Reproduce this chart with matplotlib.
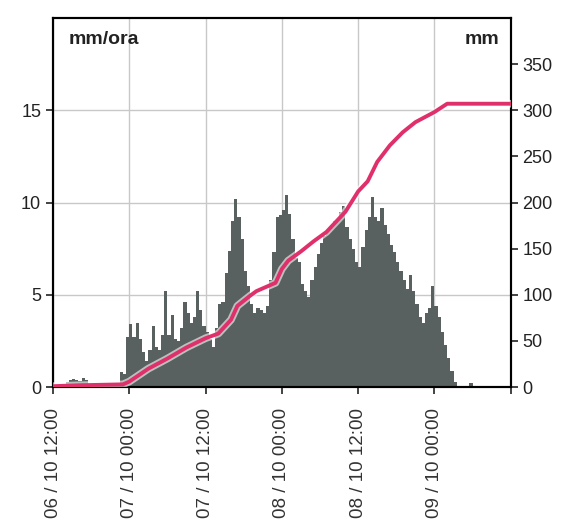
import numpy as np
import matplotlib
matplotlib.use("Agg")
import matplotlib.pyplot as plt

plt.rcParams['font.family'] = ['Liberation Sans', 'DejaVu Sans']

# rainfall intensity (mm/ora), half-hour steps from 06/10 12:00
rain = [
    0, 0, 0, 0, 0.3, 0.4, 0.45, 0.4, 0.35, 0.5,
    0.4, 0, 0, 0, 0, 0, 0, 0, 0, 0,
    0, 0.8, 0.7, 2.7, 3.4, 2.7, 3.5, 2.6, 1.9, 1.4,
    2.0, 3.3, 2.2, 2.0, 2.8, 5.2, 2.8, 3.9, 2.6, 2.5,
    3.2, 4.6, 4.0, 3.5, 3.8, 5.2, 4.2, 3.3, 3.0, 2.6,
    2.2, 3.2, 4.5, 4.6, 6.2, 7.4, 9.0, 10.2, 9.2, 8.0,
    6.3, 5.5, 4.5, 4.0, 4.3, 4.2, 4.0, 4.4, 5.8, 7.3,
    9.2, 9.3, 9.6, 10.4, 9.4, 8.0, 7.0, 6.8, 5.6, 5.2,
    4.9, 5.8, 6.5, 7.2, 7.8, 8.2, 8.5, 8.8, 9.0, 9.1,
    9.5, 9.8, 8.7, 8.0, 7.5, 6.8, 6.5, 7.6, 8.5, 9.2,
    10.3, 9.2, 9.0, 9.7, 8.8, 8.3, 7.7, 7.3, 6.8, 6.3,
    5.8, 5.3, 6.1, 5.2, 4.5, 3.8, 3.5, 4.0, 4.3, 5.5,
    4.4, 3.8, 3.0, 2.3, 1.6, 0.9, 0.3, 0, 0, 0,
    0, 0.2, 0, 0, 0, 0, 0, 0, 0, 0,
    0, 0, 0, 0,
]

# cumulative rainfall (mm) read at hours since 06/10 12:00
cum_hours = [0, 4, 11, 12, 15, 18, 21, 24, 26, 28, 29, 31, 32, 35, 36, 37,
             39, 41, 43, 46, 48, 49.5, 51, 53, 55, 57, 60, 62, 72]
cum_mm = [1, 2, 3, 6, 20, 31, 43, 53, 58, 73, 88, 99, 104, 113, 128, 137,
          147, 158, 168, 190, 212, 223, 244, 262, 276, 287, 298, 307, 307]

tick_hours = [0, 12, 24, 36, 48, 60, 72]
tick_labels = ["06 / 10 12:00", "07 / 10 00:00", "07 / 10 12:00",
               "08 / 10 00:00", "08 / 10 12:00", "09 / 10 00:00", ""]

fig = plt.figure(figsize=(5.7, 5.26), dpi=100)
ax = fig.add_axes([0.093, 0.264, 0.803, 0.702])

t = np.arange(len(rain)) * 0.5
ax.bar(t, rain, width=0.5, align='edge', color='#58615f', linewidth=0, zorder=2)
ax.set_xlim(0, 72)
ax.set_ylim(0, 20)
ax.set_yticks([0, 5, 10, 15])
ax.set_xticks(tick_hours)
ax.set_xticklabels(tick_labels, rotation=90, va='top', ha='center')
ax.grid(True, color='#c8c8c8', linewidth=1, zorder=0)
ax.set_axisbelow(True)
ax.tick_params(axis='both', labelsize=13, colors='#222222', width=1.2, length=5)
ax.tick_params(axis='x', labelsize=13.5, pad=10, labelcolor='#333333')
for s in ax.spines.values():
    s.set_linewidth(1.5)

ax2 = ax.twinx()
ax2.plot(cum_hours, cum_mm, color='#ffffff', linewidth=5.5, alpha=0.6, zorder=3)
ax2.plot(cum_hours, cum_mm, color='#e0306c', linewidth=2.8, zorder=4)
ax2.set_ylim(0, 400)
ax2.set_yticks(range(0, 351, 50))
ax2.tick_params(axis='y', labelsize=13, colors='#222222', width=1.2, length=5)
for s in ax2.spines.values():
    s.set_linewidth(1.5)

ax.text(0.035, 0.965, "mm/ora", transform=ax.transAxes, fontsize=14,
        fontweight='bold', va='top', ha='left', color='#222222')
ax.text(0.975, 0.965, "mm", transform=ax.transAxes, fontsize=14,
        fontweight='bold', va='top', ha='right', color='#222222')

fig.savefig("out.png", dpi=100)
